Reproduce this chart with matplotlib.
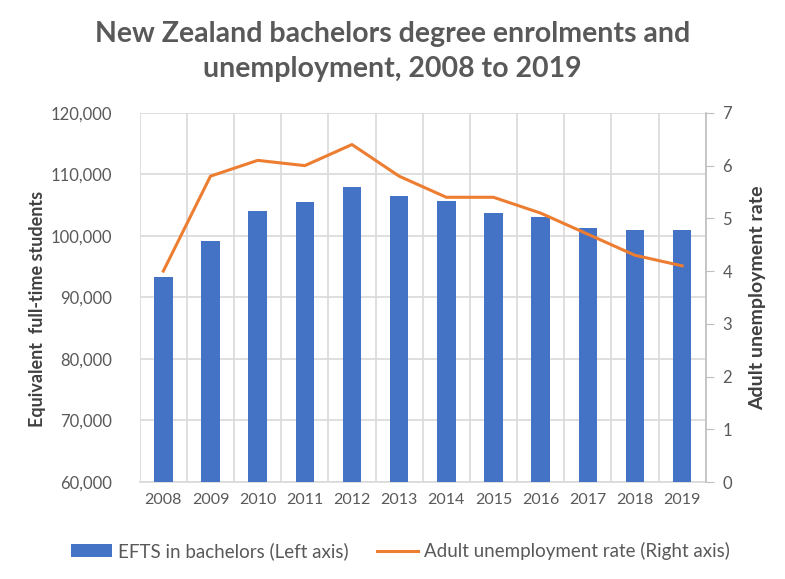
import matplotlib.pyplot as plt
import numpy as np
from matplotlib.ticker import FuncFormatter, MultipleLocator

# data
years = ['2008', '2009', '2010', '2011', '2012', '2013',
         '2014', '2015', '2016', '2017', '2018', '2019']
efts = [93400, 99200, 104100, 105450, 107900, 106550,
        105700, 103800, 103000, 101350, 101000, 101000]
unemp = [4.0, 5.8, 6.1, 6.0, 6.4, 5.8, 5.4, 5.4, 5.1, 4.7, 4.3, 4.1]

blue = '#4472c4'
orange = '#ed7d31'
grey = '#595959'
grid = '#d9d9d9'

plt.rcParams['font.family'] = ['Lato', 'DejaVu Sans']

fig = plt.figure(figsize=(7.85, 5.79), dpi=100)
ax = fig.add_axes([0.178, 0.1675, 0.721, 0.6375])
x = np.arange(len(years))

bars = ax.bar(x, efts, width=0.39, color=blue, zorder=3,
              label='EFTS in bachelors (Left axis)')
ax.set_ylim(60000, 120000)
ax.set_xlim(-0.5, len(years) - 0.5)
ax.yaxis.set_major_locator(MultipleLocator(10000))
ax.yaxis.set_major_formatter(FuncFormatter(lambda v, p: f'{int(v):,}'))
ax.set_xticks(x)
ax.set_xticklabels(years)
ax.set_xticks(np.arange(-0.5, len(years)), minor=True)
ax.grid(axis='y', color=grid, lw=1.2, zorder=0)
ax.grid(axis='x', which='minor', color=grid, lw=1.2, zorder=0)
ax.tick_params(axis='x', which='both', length=0, colors=grey, labelsize=11.5, pad=8)
ax.tick_params(axis='y', which='both', length=0, colors=grey, labelsize=12, pad=20)
for s in ['top', 'left']:
    ax.spines[s].set_visible(False)
ax.spines['bottom'].set_color(grid)
ax.spines['bottom'].set_linewidth(1.2)
ax.spines['right'].set_visible(False)
ax.set_ylabel('Equivalent  full-time students', fontsize=13, fontweight='bold',
              color='#404040', labelpad=4)
ax.yaxis.set_label_coords(-0.165, 0.47)

ax2 = ax.twinx()
line, = ax2.plot(x, unemp, color=orange, lw=2.2, zorder=4,
                 label='Adult unemployment rate (Right axis)')
ax2.set_ylim(0, 7)
ax2.yaxis.set_major_locator(MultipleLocator(1))
for s in ['top', 'left', 'bottom']:
    ax2.spines[s].set_visible(False)
ax2.spines['right'].set_color('#bfbfbf')
ax2.spines['right'].set_linewidth(1.2)
ax2.tick_params(axis='y', length=6, color='#bfbfbf', labelcolor=grey,
                labelsize=12, pad=6)
ax2.set_ylabel('Adult unemployment rate', fontsize=14, fontweight='bold',
               color='#404040', rotation=90, labelpad=12)

fig.text(0.5, 0.911, 'New Zealand bachelors degree enrolments and\nunemployment, 2008 to 2019',
         ha='center', va='center', fontsize=20.5, fontweight='bold', color=grey,
         linespacing=1.4)

fig.legend([bars, line], [bars.get_label(), line.get_label()],
           loc='center', bbox_to_anchor=(0.51, 0.048), ncol=2, frameon=False,
           fontsize=13.5, labelcolor=grey, handlelength=2.2, handletextpad=0.3,
           columnspacing=1.5)

fig.savefig('out.png', dpi=100)
